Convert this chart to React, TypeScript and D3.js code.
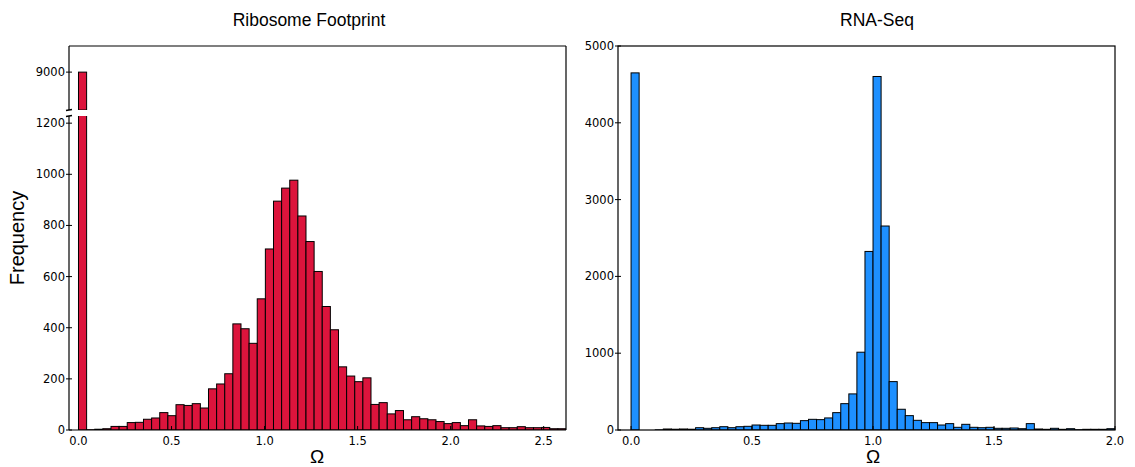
import React from "react";
import * as d3 from "d3";

// Histogram counts of Ω, 60 equal-width bins per panel
const riboCounts: number[] = [
  9000, 1, 3, 5, 14, 14, 29, 30, 42, 47,
  68, 56, 99, 96, 103, 86, 161, 180, 220, 415,
  396, 339, 513, 708, 895, 946, 977, 837, 737, 620,
  483, 392, 247, 211, 189, 204, 100, 107, 63, 76,
  40, 52, 44, 40, 33, 25, 29, 17, 40, 16,
  14, 17, 9, 9, 13, 9, 9, 10, 5, 5,
];
const riboMax = 2.62;

const rnaCounts: number[] = [
  4650, 0, 0, 2, 13, 10, 13, 10, 30, 22,
  30, 43, 30, 43, 48, 65, 61, 61, 83, 91,
  87, 122, 139, 135, 157, 226, 343, 470, 1013, 2325,
  4603, 2656, 630, 270, 187, 126, 96, 96, 65, 83,
  35, 74, 35, 30, 35, 22, 22, 26, 17, 83,
  13, 9, 22, 9, 17, 4, 9, 9, 9, 17,
];
const rnaMax = 2.0;

const riboXTicks = [0, 0.5, 1.0, 1.5, 2.0, 2.5];
const rnaXTicks = [0, 0.5, 1.0, 1.5, 2.0];
const riboLowTicks = [0, 200, 400, 600, 800, 1000, 1200];
const riboHighTicks = [9000];
const rnaYTicks = [0, 1000, 2000, 3000, 4000, 5000];

const RED = "#DC143C";
const BLUE = "#1E90FF";
const TICK_FONT = "'DejaVu Sans', sans-serif";
const LABEL_FONT = "'Liberation Sans', Arial, Helvetica, sans-serif";

type Bin = { x0: number; x1: number; v: number };
const toBins = (counts: number[], max: number): Bin[] => {
  const w = max / counts.length;
  return counts.map((v, i) => ({ x0: i * w, x1: (i + 1) * w, v }));
};

function XAxis({ x, ticks, y }: { x: d3.ScaleLinear<number, number>; ticks: number[]; y: number }) {
  return (
    <g>
      {ticks.map((t) => (
        <g key={t}>
          <line x1={x(t)} x2={x(t)} y1={y} y2={y - 4} stroke="#000" strokeWidth={1} />
          <text x={x(t)} y={y + 15} textAnchor="middle" fontFamily={TICK_FONT} fontSize={11.5}>
            {d3.format(".1f")(t)}
          </text>
        </g>
      ))}
    </g>
  );
}

function YTicks({ y, ticks, x }: { y: d3.ScaleLinear<number, number>; ticks: number[]; x: number }) {
  return (
    <g>
      {ticks.map((t) => (
        <g key={t}>
          <line x1={x - 3} x2={x + 3} y1={y(t)} y2={y(t)} stroke="#000" strokeWidth={1} />
          <text x={x - 4} y={y(t) + 4} textAnchor="end" fontFamily={TICK_FONT} fontSize={11.5}>
            {t}
          </text>
        </g>
      ))}
    </g>
  );
}

function Bars({
  bins, x, y, fill, clip,
}: {
  bins: Bin[]; x: d3.ScaleLinear<number, number>; y: d3.ScaleLinear<number, number>; fill: string; clip?: string;
}) {
  const base = y.range()[0];
  return (
    <g clipPath={clip ? `url(#${clip})` : undefined}>
      {bins.map((b, i) =>
        b.v > 0 ? (
          <rect
            key={i}
            x={x(b.x0)}
            width={x(b.x1) - x(b.x0)}
            y={y(b.v)}
            height={Math.max(0, base - y(b.v))}
            fill={fill}
            stroke="#000"
            strokeWidth={1}
          />
        ) : null
      )}
    </g>
  );
}

export default function App() {
  // Left panel: broken y axis (tall zero bin on top, bulk of the distribution below)
  const L = { left: 69, right: 566, top: 46, breakTop: 110, breakBottom: 116, bottom: 430 };
  const riboBins = toBins(riboCounts, riboMax);
  const xRibo = d3.scaleLinear().domain([-0.051, riboMax]).range([L.left, L.right]);
  const yLow = d3.scaleLinear().domain([0, 1228]).range([L.bottom, L.breakBottom]);
  const yHigh = d3.scaleLinear().domain([8710, 9200]).range([L.breakTop, L.top]);

  // Right panel
  const R = { left: 618, right: 1115, top: 46, bottom: 430 };
  const rnaBins = toBins(rnaCounts, rnaMax);
  const xRna = d3.scaleLinear().domain([-0.054, rnaMax]).range([R.left, R.right]);
  const yRna = d3.scaleLinear().domain([0, 5000]).range([R.bottom, R.top]);

  return (
    <svg
      width={1135}
      height={467}
      style={{ position: "absolute", left: 0, top: 0, display: "block", background: "#fff" }}
    >
      <defs>
        <clipPath id="clipLow">
          <rect x={L.left} y={L.breakBottom} width={L.right - L.left} height={L.bottom - L.breakBottom} />
        </clipPath>
        <clipPath id="clipHigh">
          <rect x={L.left} y={L.top} width={L.right - L.left} height={L.breakTop - L.top} />
        </clipPath>
        <clipPath id="clipRna">
          <rect x={R.left} y={R.top} width={R.right - R.left} height={R.bottom - R.top} />
        </clipPath>
      </defs>
      <rect width={1135} height={467} fill="#fff" />

      {/* Ribosome Footprint */}
      <text x={309} y={26} textAnchor="middle" fontFamily={LABEL_FONT} fontSize={17.5}>
        Ribosome Footprint
      </text>
      <Bars bins={riboBins} x={xRibo} y={yHigh} fill={RED} clip="clipHigh" />
      <Bars bins={riboBins} x={xRibo} y={yLow} fill={RED} clip="clipLow" />
      <g stroke="#000" strokeWidth={1.2} fill="none">
        <line x1={L.left} x2={L.right} y1={L.top} y2={L.top} />
        <line x1={L.left} x2={L.right} y1={L.bottom} y2={L.bottom} />
        <line x1={L.right} x2={L.right} y1={L.top} y2={L.bottom} />
        <line x1={L.left} x2={L.left} y1={L.top} y2={L.breakTop} />
        <line x1={L.left} x2={L.left} y1={L.breakBottom} y2={L.bottom} />
        {/* break marks */}
        <line x1={L.left - 3} x2={L.left + 3} y1={L.breakTop + 0.5} y2={L.breakTop - 0.5} strokeWidth={1.5} />
        <line x1={L.left - 3} x2={L.left + 3} y1={L.breakBottom + 0.5} y2={L.breakBottom - 0.5} strokeWidth={1.5} />
      </g>
      <YTicks y={yLow} ticks={riboLowTicks} x={L.left} />
      <YTicks y={yHigh} ticks={riboHighTicks} x={L.left} />
      <XAxis x={xRibo} ticks={riboXTicks} y={L.bottom} />
      <text x={317} y={463} textAnchor="middle" fontFamily={LABEL_FONT} fontSize={19}>
        Ω
      </text>
      <text
        transform={`translate(24, ${(L.top + L.bottom) / 2}) rotate(-90)`}
        textAnchor="middle"
        fontFamily={LABEL_FONT}
        fontSize={20}
      >
        Frequency
      </text>

      {/* RNA-Seq */}
      <text x={877} y={26} textAnchor="middle" fontFamily={LABEL_FONT} fontSize={17.5}>
        RNA-Seq
      </text>
      <Bars bins={rnaBins} x={xRna} y={yRna} fill={BLUE} clip="clipRna" />
      <rect
        x={R.left}
        y={R.top}
        width={R.right - R.left}
        height={R.bottom - R.top}
        fill="none"
        stroke="#000"
        strokeWidth={1.2}
      />
      <YTicks y={yRna} ticks={rnaYTicks} x={R.left} />
      <XAxis x={xRna} ticks={rnaXTicks} y={R.bottom} />
      <text x={873} y={463} textAnchor="middle" fontFamily={LABEL_FONT} fontSize={19}>
        Ω
      </text>
    </svg>
  );
}
